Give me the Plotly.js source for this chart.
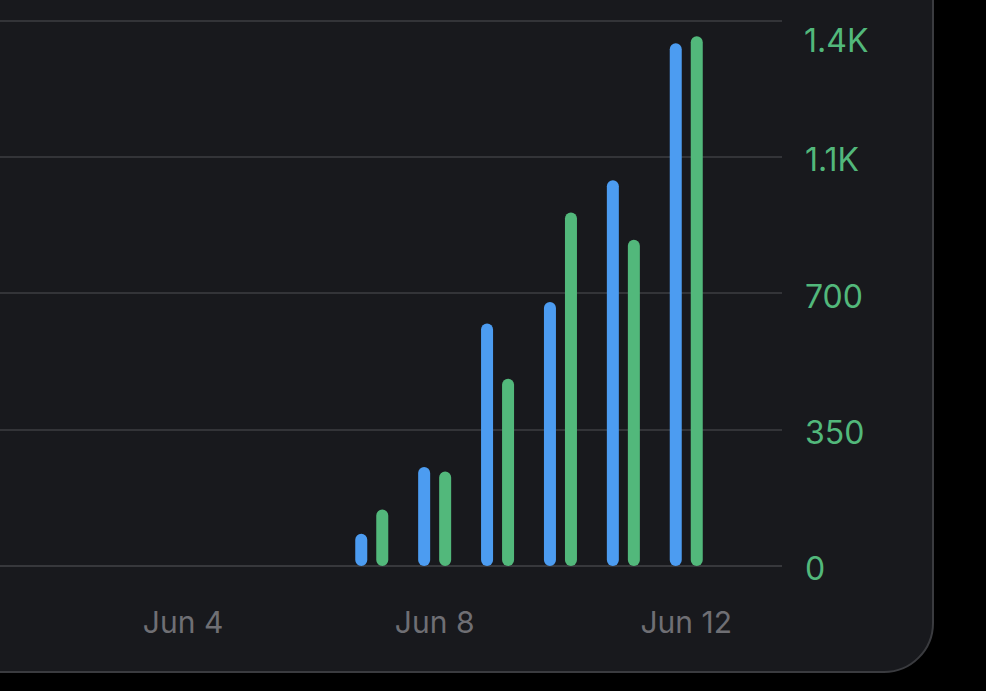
<!DOCTYPE html>
<html>
<head>
<meta charset="utf-8">
<script src="https://cdn.plot.ly/plotly-3.0.1.min.js"></script>
<style>
  html, body { margin:0; padding:0; background:#000; width:986px; height:691px; overflow:hidden; }
  #card { position:absolute; left:-80px; top:-80px; width:1014px; height:753px; box-sizing:border-box;
          background:#18191d; border:2px solid #3a3b3f; border-radius:50px; }
  #chart { position:absolute; left:0; top:0; width:986px; height:691px; }
</style>
</head>
<body>
<div id="card"></div>
<div id="chart"></div>
<script>
// Data
const days = ['2024-06-07', '2024-06-08', '2024-06-09', '2024-06-10', '2024-06-11', '2024-06-12'];
const blueValues = [83, 254, 623, 678, 991, 1343];
const greenValues = [145, 243, 481, 908, 838, 1361];
const xTickVals = ['2024-06-04', '2024-06-08', '2024-06-12'];
const xTickText = ['Jun 4', 'Jun 8', 'Jun 12'];
const yTickVals = [0, 350, 700, 1050, 1400];
const yTickText = ['0', '350', '700', '1.1K', ''];
const topLabel = '1.4K';

const DAY = 86400000;
const barW = 0.19086 * DAY;
const FONT = 'Inter, "Open Sans", sans-serif';

const traces = [
  { type:'bar', name:'Blue', x: days, y: blueValues, width: barW, offset: -0.26243 * DAY,
    marker:{ color:'#4c9cf1', cornerradius:'50%' }, hoverinfo:'x+y' },
  { type:'bar', name:'Green', x: days, y: greenValues, width: barW, offset: 0.07157 * DAY,
    marker:{ color:'#52b87b', cornerradius:'50%' }, hoverinfo:'x+y' }
];

const layout = {
  width: 986, height: 691,
  margin: { l: 0, r: 204, t: 19, b: 125, pad: 0 },
  paper_bgcolor: 'rgba(0,0,0,0)',
  plot_bgcolor: 'rgba(0,0,0,0)',
  showlegend: false,
  barmode: 'overlay',
  xaxis: {
    type: 'date',
    range: ['2024-06-01 02:09', '2024-06-13 12:32'],
    tickvals: xTickVals, ticktext: xTickText,
    showgrid: false, zeroline: false, showline: false, ticks: '',
    ticklabelstandoff: 36,
    tickfont: { family: FONT, size: 30, color: '#6f6f74' },
    fixedrange: true
  },
  yaxis: {
    side: 'right',
    range: [0, 1405],
    tickvals: yTickVals, ticktext: yTickText,
    showgrid: true, gridcolor: '#333438', gridwidth: 2,
    zeroline: true, zerolinecolor: '#37383c', zerolinewidth: 2,
    showline: false, ticks: '',
    ticklabelstandoff: 22,
    ticklabelshift: 3,
    tickfont: { family: FONT, size: 32, color: '#52b87b' },
    fixedrange: true
  },
  annotations: [
    { xref:'paper', yref:'y', x: 1, y: 1400, text: topLabel, showarrow:false,
      xanchor:'left', yanchor:'middle', xshift: 20, yshift: -20,
      font: { family: FONT, size: 32, color: '#52b87b' } }
  ]
};

Plotly.newPlot('chart', traces, layout, { displayModeBar: false, staticPlot: true }).then(function (gd) {
  // round the base end of each bar too (pill shape), using the geometry Plotly computed
  gd.querySelectorAll('.barlayer .point path').forEach(function (p) {
    const b = p.getBBox();
    if (b.width <= 0 || b.height <= 0) return;
    const r = Math.min(b.width / 2, b.height / 2);
    const x0 = b.x, x1 = b.x + b.width, y0 = b.y, y1 = b.y + b.height;
    const d = 'M' + x0 + ',' + (y0 + r) +
      'A' + r + ',' + r + ' 0 0 1 ' + x1 + ',' + (y0 + r) +
      'L' + x1 + ',' + (y1 - r) +
      'A' + r + ',' + r + ' 0 0 1 ' + x0 + ',' + (y1 - r) + 'Z';
    p.setAttribute('d', d);
  });
});
</script>
</body>
</html>
